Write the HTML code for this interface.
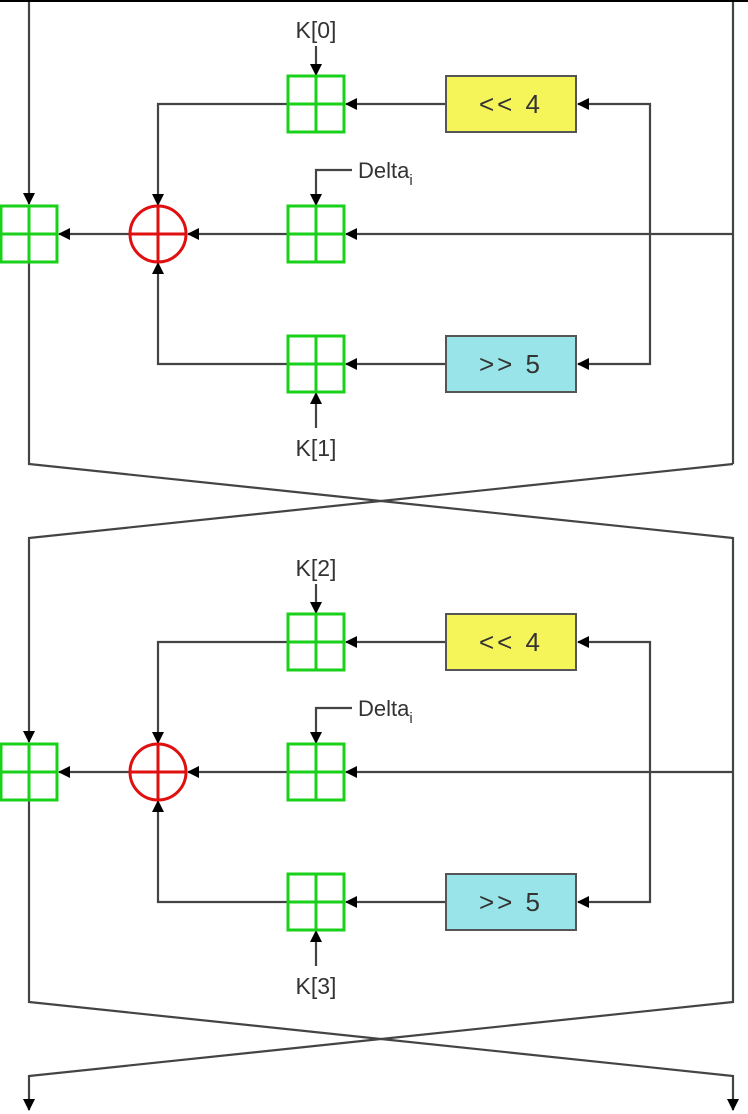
<!DOCTYPE html>
<html><head><style>
html,body{margin:0;padding:0;background:#fff;}
svg{display:block;}
text{font-family:"Liberation Sans","DejaVu Sans",sans-serif;fill:#333;}
</style></head><body>
<svg width="748" height="1114" viewBox="0 0 748 1114" xmlns="http://www.w3.org/2000/svg">
<defs>
<marker id="a" markerWidth="12" markerHeight="12" refX="11" refY="6" orient="auto" markerUnits="userSpaceOnUse">
<path d="M0,0 L12,6 L0,12 z" fill="#000"/>
</marker>
<g id="blk">
<g stroke="#444" stroke-width="2.2" fill="none">
<line x1="733" y1="234" x2="346" y2="234" marker-end="url(#a)"/>
<polyline points="650,234 650,104 578,104" marker-end="url(#a)"/>
<polyline points="650,234 650,364 578,364" marker-end="url(#a)"/>
<line x1="446" y1="104" x2="346" y2="104" marker-end="url(#a)"/>
<line x1="446" y1="364" x2="346" y2="364" marker-end="url(#a)"/>
<polyline points="288,104 158,104 158,205" marker-end="url(#a)"/>
<polyline points="288,364 158,364 158,263" marker-end="url(#a)"/>
<line x1="288" y1="234" x2="188" y2="234" marker-end="url(#a)"/>
<line x1="130" y1="234" x2="59" y2="234" marker-end="url(#a)"/>
<line x1="316" y1="46" x2="316" y2="75" marker-end="url(#a)"/>
<line x1="316" y1="428" x2="316" y2="393" marker-end="url(#a)"/>
<polyline points="352,170 316,170 316,205" marker-end="url(#a)"/>
</g>
<rect x="446" y="76" width="130" height="56" fill="#f5f55a" stroke="#555" stroke-width="2"/>
<text x="511" y="113" font-size="26" text-anchor="middle" fill="#222" letter-spacing="3">&lt;&lt; 4</text>
<rect x="446" y="336" width="130" height="56" fill="#98e4e8" stroke="#555" stroke-width="2"/>
<text x="511" y="373" font-size="26" text-anchor="middle" fill="#222" letter-spacing="3">&gt;&gt; 5</text>
<g stroke="#1ad11a" stroke-width="3" fill="#fff">
<rect x="288" y="76" width="56" height="56"/><path d="M316,76V132M288,104H344" fill="none"/>
<rect x="288" y="206" width="56" height="56"/><path d="M316,206V262M288,234H344" fill="none"/>
<rect x="288" y="336" width="56" height="56"/><path d="M316,336V392M288,364H344" fill="none"/>
<rect x="1" y="206" width="56" height="56"/><path d="M29,206V262M1,234H57" fill="none"/>
</g>
<g stroke="#e01010" stroke-width="3" fill="#fff">
<circle cx="158" cy="234" r="28"/><path d="M158,206V262M130,234H186" fill="none"/>
</g>
<text x="358" y="178" font-size="22">Delta<tspan font-size="15" dy="7">i</tspan></text>
</g>
</defs>
<rect x="0" y="0" width="748" height="2" fill="#000"/>
<g stroke="#444" stroke-width="2.2" fill="none">
<line x1="29" y1="2" x2="29" y2="204" marker-end="url(#a)"/>
<line x1="733" y1="2" x2="733" y2="464"/>
<polyline points="29,262 29,464 733,538 733,772"/>
<polyline points="733,464 29,538 29,742" marker-end="url(#a)"/>
<polyline points="29,800 29,1002 733,1076 733,1110" marker-end="url(#a)"/>
<polyline points="733,772 733,1002 29,1076 29,1110" marker-end="url(#a)"/>
</g>
<use href="#blk"/>
<text x="316" y="38" font-size="23" text-anchor="middle">K[0]</text>
<text x="316" y="456" font-size="23" text-anchor="middle">K[1]</text>
<use href="#blk" transform="translate(0,538)"/>
<text x="316" y="576" font-size="23" text-anchor="middle">K[2]</text>
<text x="316" y="994" font-size="23" text-anchor="middle">K[3]</text>
</svg>
</body></html>
